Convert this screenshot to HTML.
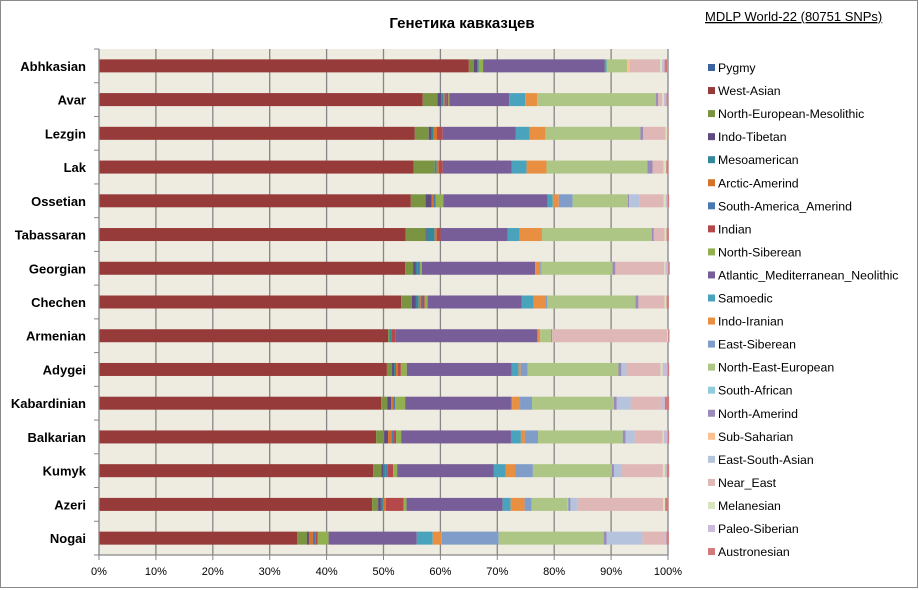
<!DOCTYPE html>
<html><head><meta charset="utf-8"><style>
body{margin:0;background:#fff;}
svg{display:block;font-family:"Liberation Sans",sans-serif;}
</style></head><body>
<svg id="chart" width="919" height="590" xmlns="http://www.w3.org/2000/svg">
<rect x="0.5" y="0.5" width="917" height="587" fill="#fff" stroke="#8a8a8a"/>
<text x="462" y="28" text-anchor="middle" font-size="15" font-weight="bold" fill="#000">Генетика кавказцев</text>
<text x="705" y="21" font-size="13" fill="#000" text-decoration="underline">MDLP World-22 (80751 SNPs)</text>
<g id="plot"></g>
<g id="legend"></g>
</svg>
<script>
const categories=["Abhkasian","Avar","Lezgin","Lak","Ossetian","Tabassaran","Georgian","Chechen","Armenian","Adygei","Kabardinian","Balkarian","Kumyk","Azeri","Nogai"];
const seriesNames=["Pygmy","West-Asian","North-European-Mesolithic","Indo-Tibetan","Mesoamerican","Arctic-Amerind","South-America_Amerind","Indian","North-Siberean","Atlantic_Mediterranean_Neolithic","Samoedic","Indo-Iranian","East-Siberean","North-East-European","South-African","North-Amerind","Sub-Saharian","East-South-Asian","Near_East","Melanesian","Paleo-Siberian","Austronesian"];
const seriesColors=["#3c64a0","#963b3a","#7a9442","#5f4b80","#35879a","#d5732a","#4a78b0","#b5494a","#93b051","#775e98","#4aa3bc","#e98f42","#7f9dc8","#aec685","#93cddd","#9a8bb8","#fac090","#b5c3dc","#deb7b6","#d7e4bd","#c8bcd8","#d07a7a"];
const vAbhkasian=[0,65,0.9,0.6,0.1,0,0.1,0,0.8,21.4,0.3,0,0,3.6,0,0,0.4,0,5.4,0.35,0.45,0.45];
const vAvar=[0,56.9,2.6,0.65,0.3,0.3,0.3,0.35,0.2,10.5,2.8,2.1,0,20.9,0,0.35,0,0,0.75,0.3,0.45,0.3];
const vLezgin=[0,55.5,2.45,0.5,0.35,0.6,0,1,0,12.8,2.45,2.8,0,16.7,0,0.5,0,0,3.9,0.35,0,0.2];
const vLak=[0,55.3,3.7,0,0.35,0.35,0,0.7,0,12.1,2.65,3.5,0,17.75,0,0.9,0,0,1.9,0.5,0,0.4];
const vOssetian=[0,54.8,2.6,1.05,0,0.35,0.35,0,1.4,18.3,0.9,1.05,2.45,9.7,0,0.2,0,1.9,4.2,0.35,0.35,0.25];
const vTabassaran=[0,53.9,3.5,0.2,1.4,0.35,0,0.7,0,11.8,2.1,3.9,0,19.3,0,0.35,0,0,1.9,0.35,0,0.4];
const vGeorgian=[0,53.8,1.4,0.5,0.25,0,0.45,0,0.35,19.9,0,0.9,0.2,12.5,0,0.5,0,0,8.6,0.2,0.5,0.25];
const vChechen=[0,53.1,1.9,0.7,0.5,0.35,0.3,0.4,0.5,16.5,2.1,2.1,0.35,15.5,0,0.5,0,0,4.6,0.35,0,0.4];
const vArmenian=[0,50.8,0.2,0,0.35,0,0,0.7,0,25,0,0.5,0,1.9,0,0.2,0,0,20.2,0.2,0,0.2];
const vAdygei=[0,50.6,0.9,0.35,0.35,0.35,0,0.5,1.05,18.45,1.2,0.35,1.2,16,0,0.5,0,0.9,6,0.35,0.9,0.25];
const vKabardinian=[0,49.6,1.05,0.7,0,0.35,0.35,0,1.75,18.6,0.2,1.4,2.1,14.4,0,0.5,0,2.45,5.3,0,0.7,0.75];
const vBalkarian=[0,48.7,1.4,0.7,0,0.7,0.35,0.35,0.9,19.3,1.75,0.7,2.3,14.9,0,0.5,0,1.6,4.9,0.2,0.7,0.25];
const vKumyk=[0,48.2,1.4,0.35,0.35,0,0.45,0.95,0.7,17,2.1,1.7,3.05,13.9,0,0.35,0,1.4,7.2,0.35,0.35,0.4];
const vAzeri=[0,48,1.05,0.5,0.35,0.5,0,3.15,0.5,16.9,1.4,2.45,1.2,6.3,0.2,0.35,0,1.2,15.1,0.35,0,0.6];
const vNogai=[0,34.8,1.75,0.35,0,0.7,0.5,0.35,1.9,15.5,2.8,1.6,10,18.45,0,0.5,0,6.3,3.9,0,0.35,0.4];
const values=[vAbhkasian,vAvar,vLezgin,vLak,vOssetian,vTabassaran,vGeorgian,vChechen,vArmenian,vAdygei,vKabardinian,vBalkarian,vKumyk,vAzeri,vNogai];
const xTicks=[0,10,20,30,40,50,60,70,80,90,100];
const xTickLabels=["0%","10%","20%","30%","40%","50%","60%","70%","80%","90%","100%"];

const NS="http://www.w3.org/2000/svg";
const L=99,R=668,T=49,B=555;
const band=(B-T)/categories.length, barH=13;
const xScale=v=>L+(R-L)*v/100;
const yBand=i=>T+i*band;
function mk(tag,attrs,parent){const e=document.createElementNS(NS,tag);for(const k in attrs)e.setAttribute(k,attrs[k]);parent.appendChild(e);return e;}
const plot=document.getElementById('plot');
const bg=mk('rect',{x:L,y:T,width:R-L,height:B-T,fill:'#eeebe0'},plot);


xTicks.forEach((t,i)=>{
  if(i>0){const g=mk('line',{x1:xScale(t),x2:xScale(t),y1:T,y2:B,stroke:'#868686','stroke-width':1.3},plot);
  
  }
  const tk=mk('line',{x1:xScale(t),x2:xScale(t),y1:B,y2:B+5,stroke:'#868686'},plot);
  
  
  const tl=mk('text',{x:xScale(t),y:B+20,'text-anchor':'middle','font-size':11,fill:'#000'},plot);
  tl.textContent=xTickLabels[i];
  
  
});
categories.forEach((c,i)=>{
  const y0=yBand(i), yb=y0+(band-barH)/2;
  let acc=0;
  values[i].forEach((v,s)=>{
    if(v>0){const r=mk('rect',{x:xScale(acc),y:yb,width:xScale(acc+v)-xScale(acc),height:barH,fill:seriesColors[s]},plot);
    
    }
    acc+=v;
  });
  const lab=mk('text',{x:86,y:y0+band/2+5,'text-anchor':'end','font-size':13,'font-weight':'bold',fill:'#000'},plot);
  lab.textContent=c;
  
  
});
for(let i=0;i<=categories.length;i++){
  const t=mk('line',{x1:L-5,x2:L,y1:yBand(i),y2:yBand(i),stroke:'#868686'},plot);
  
  
}
const ax=mk('line',{x1:L,x2:L,y1:T,y2:B,stroke:'#868686','stroke-width':1.3},plot);


const ax2=mk('line',{x1:L,x2:R,y1:B,y2:B,stroke:'#868686','stroke-width':1.3},plot);


const leg=document.getElementById('legend');
seriesNames.forEach((n,i)=>{
  const y=68+i*23.05;
  const g=mk('g',{},leg);
  
  
  mk('rect',{x:708,y:y-4,width:7,height:7,fill:seriesColors[i]},g);
  const t=mk('text',{x:718,y:y+4,'font-size':12.3,fill:'#000'},g);
  t.textContent=n;
});
</script>
</body></html>
